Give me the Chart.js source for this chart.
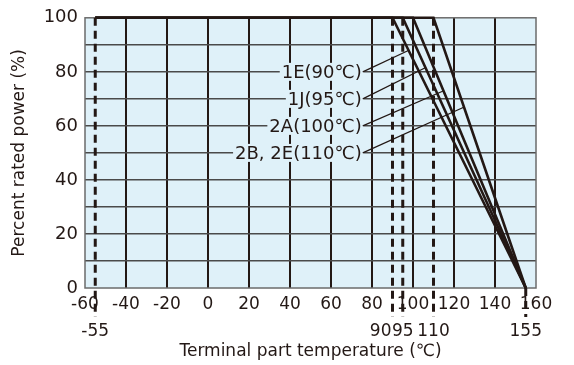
<!DOCTYPE html>
<html>
<head>
<meta charset="utf-8">
<script src="https://cdn.jsdelivr.net/npm/chart.js@4"></script>
<style>
  html, body { margin: 0; padding: 0; background: #fff; }
  #wrap { width: 574px; height: 365px; }
</style>
</head>
<body>
<div id="wrap"><canvas id="derating"></canvas></div>
<script>
// derating curves, temperature (℃) vs percent rated power (%)
const seriesNames = ['1E(90℃)', '1J(95℃)', '2A(100℃)', '2B, 2E(110℃)'];
const line1E  = [[-55, 100], [90, 100],  [155, 0]];
const line1J  = [[-55, 100], [95, 100],  [155, 0]];
const line2A  = [[-55, 100], [100, 100], [155, 0]];
const line2B2E = [[-55, 100], [110, 100], [155, 0]];

// dashed reference temperatures, where each one starts (power %), and its label
const markTemps = [-55, 90, 95, 110, 155];
const markTops  = [100, 100, 100, 100, 0];
const markLabels = ['-55', '90', '95', '110', '155'];
const markAlign = ['center', 'right', 'center', 'center', 'center'];

// callout labels: label sits at (labelX, labelY), leader runs to leaderEnd on the curve
const labelX = 75;
const labelY = [80, 70, 60, 50];
const leaderEnd = [[98, 88], [106, 81.5], [115, 73], [125, 67]];

const xMin = -60, xMax = 160, xStep = 20;
const yMin = 0, yMax = 100, yStep = 10, yLabelStep = 20;

const INK = '#231815';
const BG = '#dff1f9';
const FONT = "'DejaVu Sans', sans-serif";

const toPts = arr => arr.map(p => ({ x: p[0], y: p[1] }));
const curves = [line1E, line1J, line2A, line2B2E];

// light blue plot area
const plotBg = {
  id: 'plotBg',
  beforeDraw(chart) {
    const { ctx, chartArea: a } = chart;
    ctx.save();
    ctx.fillStyle = BG;
    ctx.fillRect(a.left, a.top, a.width, a.height);
    ctx.restore();
  }
};

// frame + dashed temperature markers (under the curves)
const markers = {
  id: 'markers',
  beforeDatasetsDraw(chart) {
    const { ctx, chartArea: a, scales } = chart;
    const xs = scales.x, ys = scales.y;
    ctx.save();
    ctx.strokeStyle = '#6b6b6b';
    ctx.lineWidth = 1.5;
    ctx.strokeRect(a.left, a.top, a.width, a.height);

    ctx.strokeStyle = INK;
    ctx.lineWidth = 3;
    ctx.setLineDash([8, 5]);
    markTemps.forEach((t, i) => {
      const px = xs.getPixelForValue(t);
      ctx.beginPath();
      ctx.moveTo(px, ys.getPixelForValue(markTops[i]));
      ctx.lineTo(px, xs.bottom);
      ctx.stroke();
    });
    ctx.restore();
  },
  afterDraw(chart) {
    // second row of x labels, under the dashed markers
    const { ctx, scales } = chart;
    const xs = scales.x;
    ctx.save();
    ctx.font = '17px ' + FONT;
    ctx.fillStyle = INK;
    ctx.textBaseline = 'middle';
    markTemps.forEach((t, i) => {
      const px = xs.getPixelForValue(t);
      ctx.textAlign = markAlign[i];
      ctx.fillText(markLabels[i], markAlign[i] === 'right' ? px - 1 : px, scales.x2.top + 15);
    });
    ctx.restore();
  }
};

// curve names with leader lines
const callouts = {
  id: 'callouts',
  afterDatasetsDraw(chart) {
    const { ctx, scales } = chart;
    const xs = scales.x, ys = scales.y;
    ctx.save();
    ctx.font = '18px ' + FONT;
    ctx.textAlign = 'right';
    ctx.textBaseline = 'middle';
    seriesNames.forEach((name, i) => {
      const tx = xs.getPixelForValue(labelX);
      const ty = ys.getPixelForValue(labelY[i]);
      const w = ctx.measureText(name).width;
      ctx.fillStyle = BG;
      ctx.fillRect(tx - w - 2, ty - 9, w + 4, 18);
      ctx.fillStyle = INK;
      ctx.fillText(name, tx, ty + 1);

      ctx.strokeStyle = INK;
      ctx.lineWidth = 1.2;
      ctx.beginPath();
      ctx.moveTo(tx + 1, ty);
      ctx.lineTo(xs.getPixelForValue(leaderEnd[i][0]), ys.getPixelForValue(leaderEnd[i][1]));
      ctx.stroke();
    });
    ctx.restore();
  }
};

const edge = (v, lo, hi) => v === lo || v === hi;

new Chart(document.getElementById('derating'), {
  type: 'line',
  data: {
    datasets: curves.map((c, i) => ({
      label: seriesNames[i],
      data: toPts(c),
      borderColor: INK,
      borderWidth: 2.6,
      pointRadius: 0,
      tension: 0,
      fill: false,
      clip: false
    }))
  },
  options: {
    responsive: true,
    maintainAspectRatio: false,
    animation: false,
    layout: { padding: { left: 0, right: 38, top: 17, bottom: 0 } },
    plugins: { legend: { display: false }, tooltip: { enabled: false } },
    scales: {
      x: {
        type: 'linear',
        position: 'bottom',
        min: xMin, max: xMax,
        afterFit: s => { s.height = 29; },
        grid: {
          drawTicks: false,
          lineWidth: 2,
          color: c => edge(c.tick.value, xMin, xMax) ? 'rgba(0,0,0,0)' : INK
        },
        border: { display: false },
        ticks: { stepSize: xStep, padding: 6, color: INK, font: { family: FONT, size: 17 } }
      },
      x2: {
        type: 'linear',
        position: 'bottom',
        min: xMin, max: xMax,
        afterFit: s => { s.height = 48; },
        grid: { display: false, drawTicks: false },
        border: { display: false },
        ticks: { display: false },
        title: {
          display: true,
          text: 'Terminal part temperature (℃)',
          color: INK,
          font: { family: FONT, size: 17 },
          padding: { top: 0, bottom: 3 }
        }
      },
      y: {
        min: yMin, max: yMax,
        afterFit: s => { s.width = 85; },
        grid: {
          drawTicks: false,
          lineWidth: 1.5,
          color: c => edge(c.tick.value, yMin, yMax) ? 'rgba(0,0,0,0)' : '#4a4a4a'
        },
        border: { display: false },
        ticks: {
          stepSize: yStep,
          padding: 7,
          color: INK,
          font: { family: FONT, size: 18 },
          callback: v => (v % yLabelStep === 0 ? String(v) : '')
        },
        title: {
          display: true,
          text: 'Percent rated power (%)',
          color: INK,
          font: { family: FONT, size: 17 },
          padding: { top: 9, bottom: 0 }
        }
      }
    }
  },
  plugins: [plotBg, markers, callouts]
});
</script>
</body>
</html>
